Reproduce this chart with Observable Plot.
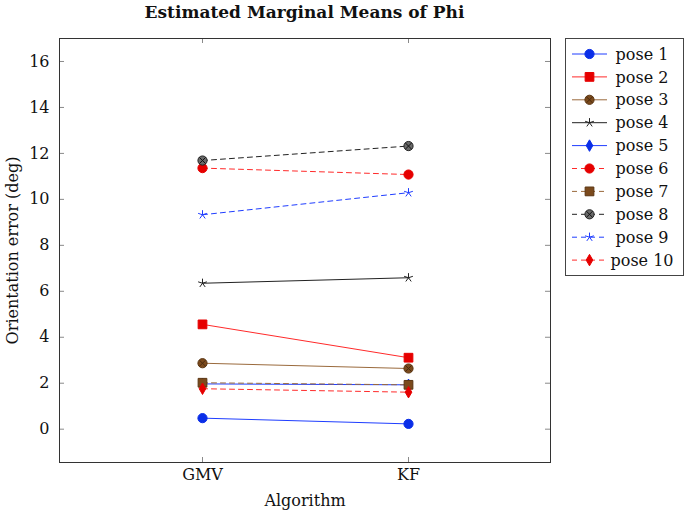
<!DOCTYPE html>
<html><head><meta charset="utf-8">
<script src="https://cdn.jsdelivr.net/npm/d3@7"></script>
<script src="https://cdn.jsdelivr.net/npm/@observablehq/plot@0.6"></script>
<style>
body{margin:0;background:#fff;font-family:"DejaVu Serif",serif;}
#wrap{position:relative;width:685px;height:512px;}
#title{width:609px;height:28px;line-height:25px;text-align:center;font-weight:bold;font-size:17px;color:#111;}
#legend{position:absolute;left:565px;top:38px;width:119px;height:238px;border:1px solid #444;box-sizing:border-box;}
</style></head><body>
<div id="wrap"><div id="title">Estimated Marginal Means of Phi</div><div id="chart"></div><div id="legend"></div></div>
<script>
// ---- data ----
const algorithms = ["GMV", "KF"];
const poses = ["pose 1","pose 2","pose 3","pose 4","pose 5","pose 6","pose 7","pose 8","pose 9","pose 10"];
const gmvValues = [0.48, 4.56, 2.87, 6.35, 1.97, 11.36, 2.02, 11.69, 9.33, 1.76];
const kfValues  = [0.23, 3.11, 2.64, 6.59, 1.93, 11.08, 1.93, 12.32, 10.29, 1.61];
const yTicks = [0, 2, 4, 6, 8, 10, 12, 14, 16];
const yLabel = "Orientation error (deg)";
const xLabel = "Algorithm";

// ---- styles ----
const BLUE = "#1f3dff", BLUEM = "#0a2ee8";
const RED = "#ff2a2a", REDM = "#e60000";
const BROWN = "#9a6a3c", BROWNM = "#7b4a1c";
const BLACK = "#222222";
const DASH = "5,4";

const starSym = {draw(ctx, size){const r=Math.sqrt(size/Math.PI)*1.0;for(let i=0;i<5;i++){const a=-Math.PI/2+i*2*Math.PI/5;ctx.moveTo(0,0);ctx.lineTo(r*Math.cos(a),r*Math.sin(a));}}};
const diamondSym = {draw(ctx, size){const r=Math.sqrt(size/Math.PI);ctx.moveTo(0,-r*1.25);ctx.lineTo(r*0.72,0);ctx.lineTo(0,r*1.25);ctx.lineTo(-r*0.72,0);ctx.closePath();}};
const squareSym = {draw(ctx, size){const s=Math.sqrt(size/Math.PI)*0.95;ctx.rect(-s,-s,2*s,2*s);}};
const circleSym = {draw(ctx, size){const r=Math.sqrt(size/Math.PI);ctx.moveTo(r,0);ctx.arc(0,0,r,0,2*Math.PI);}};
const timesSym = {draw(ctx, size){const r=Math.sqrt(size/Math.PI)*0.68;ctx.moveTo(-r,-r);ctx.lineTo(r,r);ctx.moveTo(-r,r);ctx.lineTo(r,-r);}};

const styles = [
  {line: BLUE,  dash: null, marks: [{sym: circleSym, fill: BLUEM, stroke: BLUEM}]},
  {line: RED,   dash: null, marks: [{sym: squareSym, fill: REDM, stroke: REDM}]},
  {line: BROWN, dash: null, marks: [{sym: circleSym, fill: BROWNM, stroke: "#5a3512"}, {sym: timesSym, fill: "none", stroke: "#4a2a0e"}]},
  {line: BLACK, dash: null, marks: [{sym: starSym, fill: "none", stroke: BLACK}]},
  {line: BLUE,  dash: null, marks: [{sym: diamondSym, fill: BLUEM, stroke: BLUEM}]},
  {line: RED,   dash: DASH, marks: [{sym: circleSym, fill: REDM, stroke: REDM}]},
  {line: BROWN, dash: DASH, marks: [{sym: squareSym, fill: BROWNM, stroke: "#5a3512"}]},
  {line: BLACK, dash: DASH, marks: [{sym: circleSym, fill: "#6a6a6a", stroke: "#222"}, {sym: timesSym, fill: "none", stroke: "#111"}]},
  {line: BLUE,  dash: DASH, marks: [{sym: starSym, fill: "none", stroke: BLUE}]},
  {line: RED,   dash: DASH, marks: [{sym: diamondSym, fill: REDM, stroke: REDM}]}
];

const rows = [];
poses.forEach((p, i) => {
  rows.push({pose: p, alg: algorithms[0], value: gmvValues[i]});
  rows.push({pose: p, alg: algorithms[1], value: kfValues[i]});
});

const W = 685, H = 484, ML = 59, MR = 135, MT = 10, MB = 50;
const FW = W - ML - MR, FH = H - MT - MB, TICK = 5;

const marks = [];
marks.push(Plot.tickY(yTicks, {y: d => d, stroke: "#8a8a8a", insetRight: FW - TICK}));
marks.push(Plot.tickY(yTicks, {y: d => d, stroke: "#8a8a8a", insetLeft: FW - TICK}));
marks.push(Plot.tickX(algorithms, {x: d => d, stroke: "#8a8a8a", insetTop: FH - TICK}));
marks.push(Plot.tickX(algorithms, {x: d => d, stroke: "#8a8a8a", insetBottom: FH - TICK}));
marks.push(Plot.axisY(yTicks, {tickSize: 0, tickPadding: 10, label: null, fill: "#111"}));
marks.push(Plot.axisX({tickSize: 0, tickPadding: 6, label: null, fill: "#111"}));
marks.push(Plot.text([yLabel], {text: d => d, frameAnchor: "left", textAnchor: "middle", rotate: -90, dx: -47, fill: "#111"}));
marks.push(Plot.text([xLabel], {text: d => d, frameAnchor: "bottom", dy: 43, fill: "#111"}));

poses.forEach((p, i) => {
  const st = styles[i];
  const d = rows.filter(r => r.pose === p);
  marks.push(Plot.line(d, {x: "alg", y: "value", stroke: st.line, strokeWidth: 1, strokeDasharray: st.dash ?? undefined}));
  st.marks.forEach(m => {
    marks.push(Plot.dot(d, {x: "alg", y: "value", symbol: m.sym, r: 4.6, fill: m.fill, stroke: m.stroke, strokeWidth: 1}));
  });
});
marks.push(Plot.frame({stroke: "#333", strokeWidth: 1}));

const chart = Plot.plot({
  width: W, height: H,
  marginLeft: ML, marginRight: MR, marginTop: MT, marginBottom: MB,
  style: {fontFamily: "DejaVu Serif, serif", fontSize: "16px", background: "#fff", color: "#111"},
  x: {type: "point", domain: algorithms, padding: 0.686},
  y: {domain: [-1.45, 17]},
  marks
});
document.getElementById("chart").appendChild(chart);

// ---- legend ----
const lg = d3.select("#legend").append("svg").attr("width", 117).attr("height", 236)
  .style("font-family", "DejaVu Serif, serif").style("font-size", "16px");
poses.forEach((p, i) => {
  const st = styles[i];
  const y = 15 + i * 22.9;
  const g = lg.append("g").attr("transform", `translate(0,${y})`);
  g.append("line").attr("x1", 6).attr("x2", 41).attr("y1", 0).attr("y2", 0)
    .attr("stroke", st.line).attr("stroke-width", 1).attr("stroke-dasharray", st.dash);
  st.marks.forEach(m => {
    g.append("path").attr("transform", "translate(23.5,0)")
      .attr("d", d3.symbol(m.sym, Math.PI * 4.6 * 4.6)())
      .attr("fill", m.fill).attr("stroke", m.stroke).attr("stroke-width", 1);
  });
  g.append("text").attr("x", 76).attr("y", 0).attr("dy", "0.35em").attr("text-anchor", "middle")
    .attr("fill", "#111").text(p);
});
</script>
</body></html>
